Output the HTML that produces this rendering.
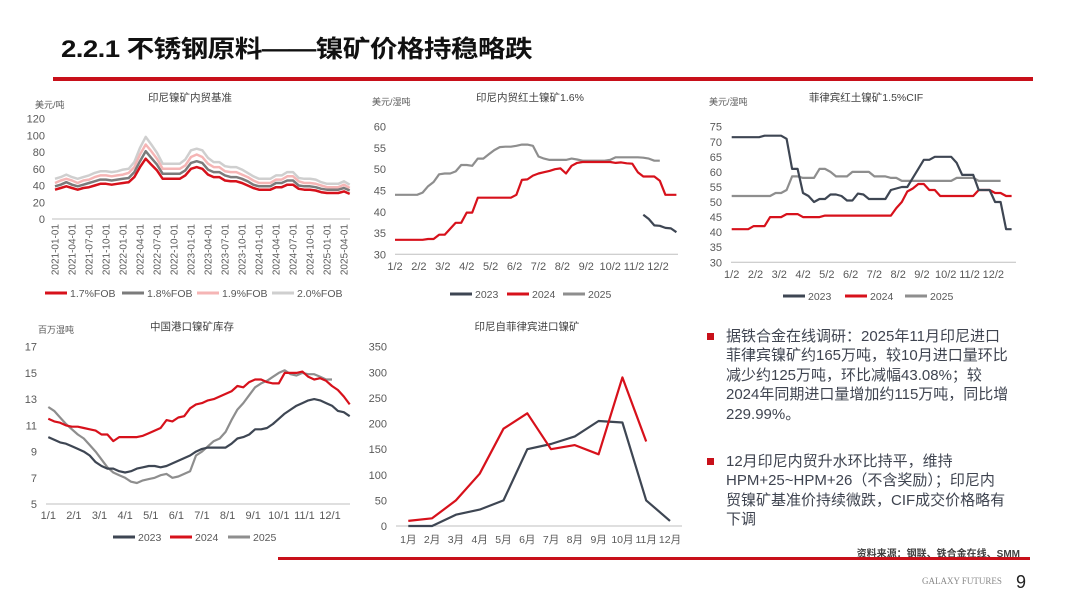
<!DOCTYPE html>
<html><head><meta charset="utf-8">
<style>
html,body{margin:0;padding:0;background:#fff;}
body{width:1080px;height:608px;position:relative;overflow:hidden;font-family:"Liberation Sans","Noto Sans CJK SC",sans-serif;}
svg text{font-family:"Liberation Sans","Noto Sans CJK SC",sans-serif;}
.t{position:absolute;}
.ln{white-space:nowrap;}
</style></head><body>
<div class="t" style="left:61px;top:29px;font-size:24px;font-weight:bold;color:#111;letter-spacing:-0.5px;transform:scaleX(1.15);transform-origin:0 0;white-space:nowrap;">2.2.1 不锈钢原料——镍矿价格持稳略跌</div>
<div class="t" style="left:53px;top:77px;width:980px;height:4px;background:#c8101a;"></div>

<svg id="s" width="1080" height="608" style="position:absolute;left:0;top:0"></svg>

<div class="t" style="left:706px;top:327px;width:340px;font-size:15px;line-height:19.4px;color:#3f4450;">
  <div style="position:relative;padding-left:20px;">
    <span style="position:absolute;left:1px;top:6px;width:7px;height:7px;background:#c8101a;"></span><div class="ln">据铁合金在线调研：2025年11月印尼进口</div><div class="ln">菲律宾镍矿约165万吨，较10月进口量环比</div><div class="ln">减少约125万吨，环比减幅43.08%；较</div><div class="ln">2024年同期进口量增加约115万吨，同比增</div><div class="ln">229.99%。</div></div>
  <div style="position:relative;padding-left:20px;margin-top:28px;">
    <span style="position:absolute;left:1px;top:6px;width:7px;height:7px;background:#c8101a;"></span><div class="ln">12月印尼内贸升水环比持平，维持</div><div class="ln">HPM+25~HPM+26（不含奖励）；印尼内</div><div class="ln">贸镍矿基准价持续微跌，CIF成交价格略有</div><div class="ln">下调</div></div>
</div>
<div class="t" style="right:60px;top:545px;font-size:10px;font-weight:bold;color:#404040;">资料来源：钢联、铁合金在线、SMM</div>
<div class="t" style="left:278px;top:557px;width:752px;height:3px;background:#c8101a;"></div>
<div class="t" style="left:922px;top:576px;font-size:9px;color:#888;font-family:'Liberation Serif',serif;">GALAXY FUTURES</div>
<div class="t" style="left:1016px;top:572px;font-size:18px;color:#222;">9</div>

<script>
// ---------- Chart 1: Indonesia domestic benchmark (monthly from 2021-01) ----------
const c1Ticks = ["2021-01-01","2021-04-01","2021-07-01","2021-10-01","2022-01-01","2022-04-01","2022-07-01","2022-10-01","2023-01-01","2023-04-01","2023-07-01","2023-10-01","2024-01-01","2024-04-01","2024-07-01","2024-10-01","2025-01-01","2025-04-01"];
const c1YTicks = [0,20,40,60,80,100,120];
const fob17 = [35,37,39,37,35,37,38,40,42,42,41,42, 43,44,50,62,72,65,58,48,48,48,48,52, 60,62,60,53,50,50,46,45,45,43,40,37, 35,35,35,38,38,41,41,36,35,35,34,32, 31,31,31,33,30];
const fob18 = [39,41,44,41,39,41,43,45,47,47,46,47, 48,49,56,69,81,73,65,54,54,54,54,58, 67,69,67,59,56,56,52,50,50,48,45,41, 39,39,39,43,43,46,46,40,39,39,38,36, 35,35,35,37,34];
const fob19 = [43,46,48,46,43,46,47,50,52,52,51,52, 53,55,62,77,89,81,72,60,60,60,60,64, 74,77,74,66,62,62,57,56,56,53,50,46, 43,43,43,47,47,51,51,45,43,43,42,40, 38,38,38,41,37];
const fob20 = [48,50,53,50,48,50,52,55,57,57,56,57, 59,60,68,85,98,89,79,66,66,66,66,71, 82,84,82,73,68,68,63,62,62,59,55,51, 48,48,48,52,52,56,56,49,48,48,47,44, 42,42,42,45,41];

// ---------- Chart 2: Indonesia 1.6% (weekly) ----------
const c2Months = ["1/2","2/2","3/2","4/2","5/2","6/2","7/2","8/2","9/2","10/2","11/2","12/2"];
const c2YTicks = [30,35,40,45,50,55,60];
const id2023 = [null,null,null,null,null,null,null,null,null,null,null,null,null,null,null,null,null,null,null,null,null,null,null,null,null,null,null,null,null,null,null,null,null,null,null,null,null,null,null,null,null,null,null,null,null,39.3,38.3,36.8,36.7,36.2,36.1,35.2];
const id2024 = [33.4,33.4,33.4,33.4,33.4,33.4,33.6,33.6,34.6,34.6,36,37.4,37.4,39.8,39.8,43.3,43.3,43.3,43.3,43.3,43.3,43.3,44,47.5,47.6,48.5,49,49.3,49.6,50,50.2,49,50.8,51.5,51.7,51.7,51.7,51.7,51.7,51.7,51.5,51.6,51.4,51.3,49.3,48.3,48.3,48.3,47.3,44,44,44];
const id2025 = [44,44,44,44,44,44.5,46,47,48.8,49,49,49.5,51,51,50.8,52.5,52.5,53.5,54.5,55.2,55.3,55.3,55.5,55.8,55.8,55.5,53,52.5,52.2,52.2,52.2,52.2,52.5,52.3,52,52,52,52,52,52.2,52.8,52.8,52.8,52.8,52.8,52.7,52.5,52,52];

// ---------- Chart 3: Philippines 1.5% CIF (weekly) ----------
const c3YTicks = [30,35,40,45,50,55,60,65,70,75];
const ph2023 = [71.5,71.5,71.5,71.5,71.5,71.5,72,72,72,72,71,61,61,53,52,50,51,51,52.5,52.5,52,50.5,50.5,52.8,52.5,51,51,51,51,54,54.5,55,55,58,61,64,64,65,65,65,65,63,59,59,59,54,54,54,50,50,41,41];
const ph2024 = [41,41,41,41,42,42,42,45,45,45,46,46,46,45,45,45,45,45.5,45.5,45.5,45.5,45.5,45.5,45.5,45.5,45.5,45.5,45.5,45.5,45.5,48,50,53.5,54.5,56,56,54,54,52,52,52,52,52,52,52,54,54,54,53,53,52,52];
const ph2025 = [52,52,52,52,52,52,52,52,53,53,54,58.5,58.5,58,58,58,61,61,60,58.5,58.5,58.5,60,60,60,60,58.5,58.5,58.5,58,58,57,57,57,57,57,57,57,57,57,57,58,58,58,58,57,57,57,57,57];

// ---------- Chart 4: China port inventory (weekly) ----------
const c4Months = ["1/1","2/1","3/1","4/1","5/1","6/1","7/1","8/1","9/1","10/1","11/1","12/1"];
const c4YTicks = [5,7,9,11,13,15,17];
const inv2023 = [10.1,9.9,9.7,9.6,9.4,9.2,9.0,8.7,8.2,7.9,7.7,7.7,7.5,7.4,7.5,7.7,7.8,7.9,7.9,7.8,7.9,8.1,8.3,8.5,8.7,9.0,9.2,9.3,9.3,9.3,9.3,9.6,10.0,10.1,10.3,10.7,10.7,10.8,11.1,11.5,11.9,12.2,12.5,12.7,12.9,13.0,12.9,12.7,12.5,12.1,12.0,11.7];
const inv2024 = [11.5,11.3,11.2,11.0,10.9,10.9,10.8,10.7,10.6,10.3,10.3,9.8,10.1,10.1,10.1,10.1,10.2,10.4,10.6,10.8,11.4,11.3,11.6,11.7,12.3,12.6,12.7,12.9,13.0,13.2,13.4,13.6,14.0,13.9,14.3,14.5,14.5,14.3,14.2,14.2,15.0,15.0,15.0,15.1,14.7,14.5,14.6,14.4,14.0,13.7,13.2,12.6];
const inv2025 = [12.4,12.1,11.6,11.1,10.7,10.3,10.0,9.5,9.0,8.4,7.8,7.4,7.2,7.0,6.7,6.6,6.8,6.9,7.0,7.2,7.3,7.0,7.1,7.3,7.5,8.7,9.0,9.4,9.8,10.0,10.5,11.4,12.2,12.7,13.3,13.9,14.2,14.4,14.7,15.0,15.2,14.9,14.8,15.0,14.9,14.9,14.7,14.5,14.5];

// ---------- Chart 5: Indonesia imports from Philippines (monthly) ----------
const c5Months = ["1月","2月","3月","4月","5月","6月","7月","8月","9月","10月","11月","12月"];
const c5YTicks = [0,50,100,150,200,250,300,350];
const imp2023 = [0,0,22,32,50,150,160,175,205,202,50,10];
const imp2024 = [10,15,50,102,190,220,150,158,140,290,165];

const RED="#d7111b", DARK="#3e4653", GRAY="#8e8e8e";
const NS="http://www.w3.org/2000/svg";
const svg=document.getElementById('s');
function mk(tag,attrs){const e=document.createElementNS(NS,tag);for(const k in attrs)e.setAttribute(k,attrs[k]);svg.appendChild(e);return e;}
function txt(x,y,s,size,anchor,color,extra){const e=mk('text',Object.assign({x:x,y:y,'font-size':size,'text-anchor':anchor,fill:color},extra||{}));e.textContent=s;return e;}
function lin(a,b){return v=>a[0]+(v-b[0])*(a[1]-a[0])/(b[1]-b[0]);}
function path(vals,xf,yf,color,w,name){let d="",pen=false;vals.forEach((v,i)=>{if(v===null||v===undefined){pen=false;return;}d+=(pen?"L":"M")+xf(i).toFixed(1)+" "+yf(v).toFixed(1)+" ";pen=true;});
  const p=mk('path',{d:d,fill:'none',stroke:color,'stroke-width':w,'stroke-linejoin':'round'});
  
  
  return p;}
function yAxis(ticks,yf,x,name){ticks.forEach(t=>{const e=txt(x,yf(t)+4,String(t),11,'end','#595959');
  
  });}
function legend(items,y,name){items.forEach(it=>{const l=mk('line',{x1:it[0],x2:it[0]+22,y1:y,y2:y,stroke:it[2],'stroke-width':3});
  
  
  const t=txt(it[0]+25,y+4,it[1],10.5,'start','#595959');
  
  });}
function axisLine(x1,x2,y,name){const l=mk('line',{x1:x1,x2:x2,y1:y,y2:y,stroke:'#bfbfbf','stroke-width':1});
  
  }
function title(x,y,s,name){const t=txt(x,y,s,10.5,'middle','#404040');
  
  }
function unit(x,y,s,name){const t=txt(x,y,s,9,'start','#595959');
  
  }

// Chart 1
{const yf=lin([219,118.5],[0,120]);const xf=lin([55,55+17/3],[0,1]);
 title(190,101,"印尼镍矿内贸基准",'chart1-title');unit(35,108,"美元/吨",'chart1-unit');
 yAxis(c1YTicks,yf,45,'chart1-y-tick');axisLine(52,350,219,'chart1-x-axis');
 c1Ticks.forEach((s,i)=>{const x=55+i*17;const t=txt(0,0,s,10,'end','#595959',{transform:`translate(${x+3.5},224) rotate(-90)`});
   
   });
 path(fob20,xf,yf,"#cfcfcf",2.5,'series-2.0-fob');path(fob19,xf,yf,"#f5b5b5",2.5,'series-1.9-fob');
 path(fob18,xf,yf,"#7b7b7b",2.5,'series-1.8-fob');path(fob17,xf,yf,RED,2.5,'series-1.7-fob');
 legend([[45,"1.7%FOB",RED],[122,"1.8%FOB","#7b7b7b"],[197,"1.9%FOB","#f5b5b5"],[272,"2.0%FOB","#cfcfcf"]],293,'chart1-legend');}

// Chart 2
{const yf=lin([254.3,126.7],[30,60]);const mx=lin([395,658],[0,11]);const xf=i=>mx(i*12/52);
 title(530,101,"印尼内贸红土镍矿1.6%",'chart2-title');unit(372,105,"美元/湿吨",'chart2-unit');
 yAxis(c2YTicks,yf,386,'chart2-y-tick');axisLine(395,678,254.3,'chart2-x-axis');
 c2Months.forEach((s,i)=>{const t=txt(mx(i),270,s,11,'middle','#595959');
   
   });
 path(id2025,xf,yf,GRAY,2.2,'chart2-series-2025');path(id2024,xf,yf,RED,2.2,'chart2-series-2024');path(id2023,xf,yf,DARK,2.2,'chart2-series-2023');
 legend([[450,"2023",DARK],[507,"2024",RED],[563,"2025",GRAY]],294,'chart2-legend');}

// Chart 3
{const yf=lin([262.3,126.7],[30,75]);const mx=lin([731.7,993.3],[0,11]);const xf=i=>mx(i*12/52);
 title(866,101,"菲律宾红土镍矿1.5%CIF",'chart3-title');unit(709,105,"美元/湿吨",'chart3-unit');
 yAxis(c3YTicks,yf,722,'chart3-y-tick');axisLine(731,1016,262.3,'chart3-x-axis');
 c2Months.forEach((s,i)=>{const t=txt(mx(i),278,s,11,'middle','#595959');
   
   });
 path(ph2025,xf,yf,GRAY,2.2,'chart3-series-2025');path(ph2024,xf,yf,RED,2.2,'chart3-series-2024');path(ph2023,xf,yf,DARK,2.2,'chart3-series-2023');
 legend([[783,"2023",DARK],[845,"2024",RED],[905,"2025",GRAY]],296,'chart3-legend');}

// Chart 4
{const yf=lin([504,346.7],[5,17]);const mx=lin([48.3,330],[0,11]);const xf=i=>mx(i*12/52);
 title(192,330,"中国港口镍矿库存",'chart4-title');unit(38,333,"百万湿吨",'chart4-unit');
 yAxis(c4YTicks,yf,37,'chart4-y-tick');axisLine(46,350,504,'chart4-x-axis');
 c4Months.forEach((s,i)=>{const t=txt(mx(i),519,s,11,'middle','#595959');
   
   });
 path(inv2025,xf,yf,GRAY,2.2,'chart4-series-2025');path(inv2023,xf,yf,DARK,2.2,'chart4-series-2023');path(inv2024,xf,yf,RED,2.2,'chart4-series-2024');
 legend([[113,"2023",DARK],[170,"2024",RED],[228,"2025",GRAY]],537,'chart4-legend');}

// Chart 5
{const yf=lin([526,346.7],[0,350]);const xf=lin([408.3,670],[0,11]);
 title(527,330,"印尼自菲律宾进口镍矿",'chart5-title');
 yAxis(c5YTicks,yf,387,'chart5-y-tick');axisLine(396,682,526,'chart5-x-axis');
 c5Months.forEach((s,i)=>{const t=txt(xf(i),543,s,10.5,'middle','#595959');
   
   });
 path(imp2023,xf,yf,DARK,2.2,'chart5-series-2023');path(imp2024,xf,yf,RED,2.2,'chart5-series-2024');}
</script>
</body></html>
